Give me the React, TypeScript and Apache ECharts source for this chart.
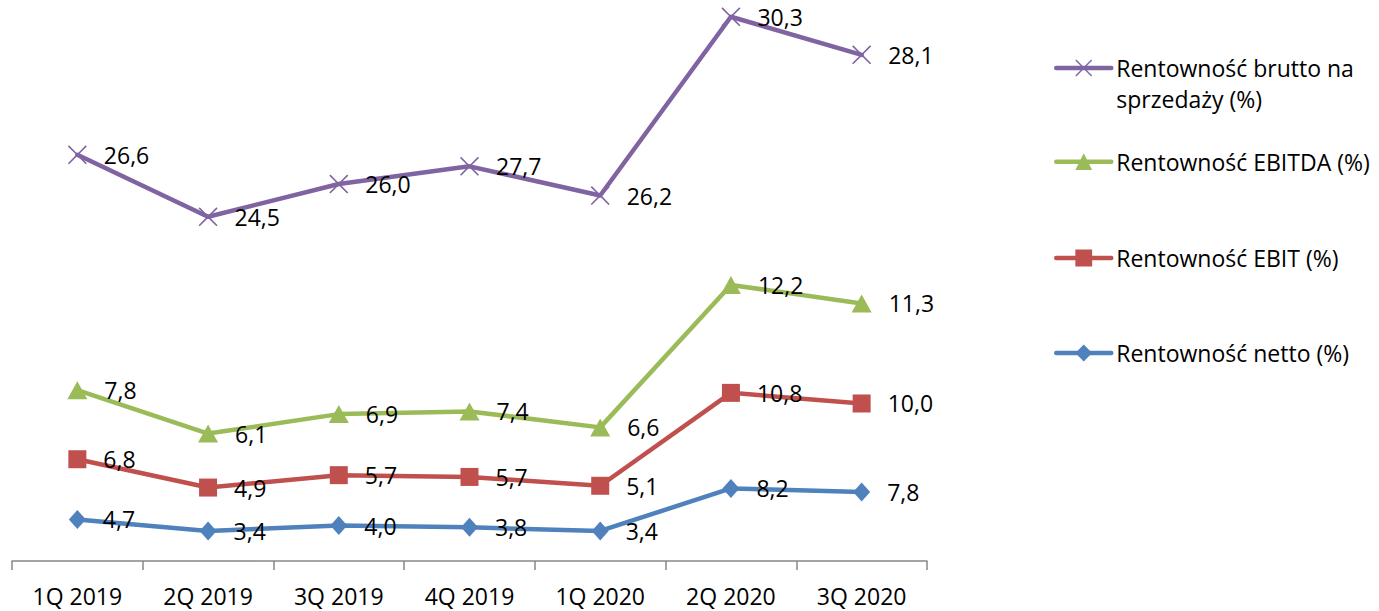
import React, { useEffect, useRef } from "react";
import * as echarts from "echarts";

const categories = ["1Q 2019", "2Q 2019", "3Q 2019", "4Q 2019", "1Q 2020", "2Q 2020", "3Q 2020"];
const netto = [4.7, 3.4, 4.0, 3.8, 3.4, 8.2, 7.8];
const ebit = [6.8, 4.9, 5.7, 5.7, 5.1, 10.8, 10.0];
const ebitda = [7.8, 6.1, 6.9, 7.4, 6.6, 12.2, 11.3];
const brutto = [26.6, 24.5, 26.0, 27.7, 26.2, 30.3, 28.1];

const NAME_BRUTTO = "Rentowność brutto na sprzedaży (%)";
const NAME_EBITDA = "Rentowność EBITDA (%)";
const NAME_EBIT = "Rentowność EBIT (%)";
const NAME_NETTO = "Rentowność netto (%)";

const FONT = "'Open Sans', 'Noto Sans', sans-serif";
const X_SYMBOL =
  "path://M0,1.2 L1.2,0 L10,8.8 L18.8,0 L20,1.2 L11.2,10 L20,18.8 L18.8,20 L10,11.2 L1.2,20 L0,18.8 L8.8,10 Z";

const fmt = (p: any) => Number(p.value).toFixed(1).replace(".", ",");

export default function App() {
  const ref = useRef<HTMLDivElement>(null);
  useEffect(() => {
    if (!ref.current) return;
    const chart = echarts.init(ref.current, undefined, { renderer: "svg" });
    const label = {
      show: true,
      position: "right" as const,
      distance: 17,
      formatter: fmt,
      color: "#000",
      fontSize: 23,
      fontFamily: FONT,
    };
    const mk = (name: string, data: number[], color: string, symbol: string, size: any) => ({
      name,
      type: "line",
      stack: "total",
      data,
      symbol,
      symbolSize: size,
      lineStyle: { color, width: 4.5, cap: "round", join: "round" },
      itemStyle: { color },
      label,
      emphasis: { disabled: true },
    });
    const legendBase = {
      orient: "vertical",
      left: 1054,
      padding: 0,
      itemWidth: 55,
      itemHeight: 21,
      selectedMode: false,
      lineStyle: { width: 4.5, cap: "round" },
      textStyle: { color: "#000", fontSize: 23, fontFamily: FONT, lineHeight: 28 },
    };
    chart.setOption({
      animation: false,
      grid: { left: 12, right: 452, top: 3.5, bottom: 50, containLabel: false, outerBoundsMode: "none" },
      xAxis: {
        type: "category",
        data: categories,
        boundaryGap: true,
        axisLine: { show: true, lineStyle: { color: "#878787", width: 1.5 } },
        axisTick: { show: true, length: 9, lineStyle: { color: "#878787", width: 1.5 } },
        axisLabel: { color: "#000", fontSize: 23, fontFamily: FONT, margin: 23, interval: 0 },
      },
      yAxis: { type: "value", min: 0, max: 63, show: false, splitLine: { show: false } },
      legend: [
        {
          ...legendBase,
          top: 21.5,
          data: [NAME_BRUTTO],
          textStyle: { ...legendBase.textStyle, lineHeight: 31 },
          formatter: () => "\nRentowność brutto na\nsprzedaży (%)",
        },
        { ...legendBase, top: 147.7, data: [NAME_EBITDA] },
        { ...legendBase, top: 244, data: [NAME_EBIT] },
        { ...legendBase, top: 339, data: [NAME_NETTO] },
      ],
      series: [
        mk(NAME_NETTO, netto, "#4F81BD", "diamond", [17, 19]),
        mk(NAME_EBIT, ebit, "#C0504D", "rect", 18),
        mk(NAME_EBITDA, ebitda, "#9BBB59", "triangle", [20, 18]),
        mk(NAME_BRUTTO, brutto, "#8064A2", X_SYMBOL, 19),
      ],
    });
    return () => chart.dispose();
  }, []);
  return (
    <div
      ref={ref}
      style={{ position: "fixed", left: 0, top: 0, width: 1379, height: 611, background: "#fff" }}
    />
  );
}
